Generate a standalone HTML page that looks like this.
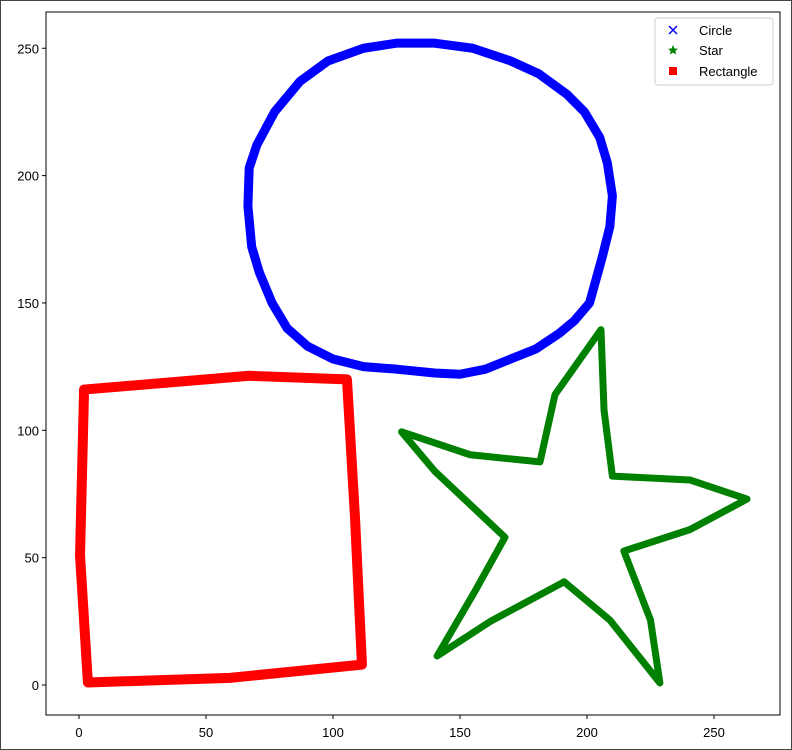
<!DOCTYPE html>
<html><head><meta charset="utf-8"><style>
body{margin:0;background:#fff;}
svg{display:block;font-family:"Liberation Sans",sans-serif;}
</style></head><body>
<svg id="chart" width="792" height="750" viewBox="0 0 792 750">
<rect x="0.5" y="0.5" width="791" height="749" fill="#fff" stroke="#444"/>
<g id="marks"></g>
<rect x="46" y="12" width="734" height="703" fill="none" stroke="#000" stroke-width="1"/>
<g id="axes"></g>
<g>
<rect x="655" y="18" width="118" height="67" rx="3" fill="#fff" stroke="#ccc"/>
<g>
<path d="M669,26 l8,8 M677,26 l-8,8" stroke="blue" stroke-width="1.5"/>
<text x="699" y="35" font-size="13">Circle</text></g>
<g>
<polygon points="673,45 674.5,48.5 678,48.8 675.3,51 676.2,54.5 673,52.6 669.8,54.5 670.7,51 668,48.8 671.5,48.5" fill="green"/>
<text x="699" y="55" font-size="13">Star</text></g>
<g>
<rect x="669" y="67" width="8" height="8" fill="red"/>
<text x="699" y="76" font-size="13">Rectangle</text></g>
</g>
</svg>
<script>
const xTicks=[0,50,100,150,200,250];
const yTicks=[0,50,100,150,200,250];
const circleX=[125,140,155,170,181,192,199,205,208,210,209,206,201,195,189,180,170,160,150,140,125,112,100,90,82,76,71,68,66.5,67,70,77,87,98,112,125];
const circleY=[252,252,250,245,240,232,225,215,205,192,180,168,150,143,138,132,128,124,122,122.5,124,125,128,133,140,150,162,172,188,203,212,225,237,245,250,252];
const starX=[205.5,206.7,210,240.5,263,240.5,214.5,225,228.7,209,191,162,141,156,167.7,140,127,154,181.5,187.4,205.5];
const starY=[139.5,108,82,80.5,73,61,52.6,25.5,0.8,25.5,40.5,25,11.4,37,58,84,99.4,90.4,87.6,114,139.5];
const rectX=[2,67,105.5,108.7,111.4,59.4,3.5,0.4,2];
const rectY=[116,121.4,120,65,8,2.8,1,51,116];
const sx=v=>79+v*2.54, sy=v=>685-v*2.547;
const NS="http://www.w3.org/2000/svg";
const marks=document.getElementById('marks'), axes=document.getElementById('axes');
function mk(tag,attrs,parent){const e=document.createElementNS(NS,tag);for(const k in attrs)e.setAttribute(k,attrs[k]);parent.appendChild(e);return e;}
function series(xs,ys,color,w,name){
  const pts=xs.map((x,i)=>sx(x)+','+sy(ys[i])).join(' ');
  const p=mk('polyline',{points:pts,fill:'none',stroke:color,'stroke-width':w,'stroke-linejoin':'round','stroke-linecap':'round'},marks);
  
  
}
series(circleX,circleY,'blue',9,'circle-series');
series(starX,starY,'green',7,'star-series');
series(rectX,rectY,'red',10,'rectangle-series');
xTicks.forEach(t=>{
  const g=mk('g',{},axes);
  
  
  mk('line',{x1:sx(t),x2:sx(t),y1:715,y2:719,stroke:'#000'},g);
  const tx=mk('text',{x:sx(t),y:737,'font-size':13,'text-anchor':'middle'},g);tx.textContent=t;
});
yTicks.forEach(t=>{
  const g=mk('g',{},axes);
  
  
  mk('line',{x1:42,x2:46,y1:sy(t),y2:sy(t),stroke:'#000'},g);
  const tx=mk('text',{x:39,y:sy(t)+5,'font-size':13,'text-anchor':'end'},g);tx.textContent=t;
});
</script>
</body></html>
